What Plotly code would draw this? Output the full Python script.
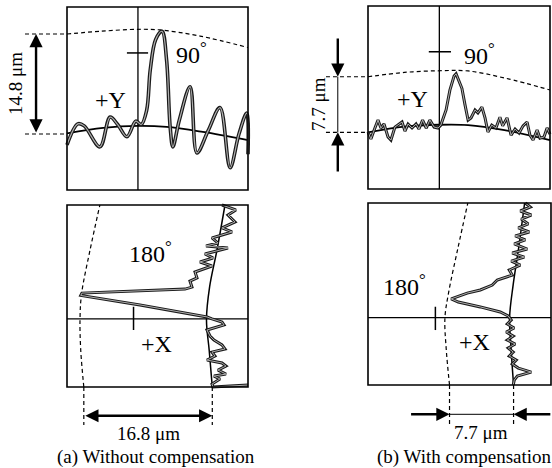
import plotly.graph_objects as go

W, H = 552, 468
FONT = "Liberation Serif"

# ---------------- data ----------------
# Panel (a) top: +Y side profile. x = position across frame (%), y = deviation (µm)
a_top_pos = [0, 6, 9.5, 18.2, 23.8, 28, 33.1, 38, 41, 44, 46, 49, 52.5, 55, 57, 58.5,
             62, 68, 71.8, 78, 84.5, 90.1, 95, 99.3, 100]
a_top_dev = [-1.6, 1.5, 1.2, -1.9, 2.5, 1.4, -0.4, 1.9, 1.4, 3.5, 9.5, 14, 15.2, 11, 1, -1.9,
             2, 7, -2.8, 0.5, 3.9, -5.0, 0, 3.1, -3.0]
a_top_ref_pos = [0, 20, 39.2, 55, 75, 100]
a_top_ref_dev = [0.1, 0.9, 1.2, 1.05, 0.3, -0.9]
a_top_out_pos = [0, 18.2, 39.2, 51.4, 73.5, 100]
a_top_out_dev = [14.8, 15.2, 15.5, 15.4, 14.5, 12.8]
a_top_span = 14.8

# Panel (b) top: +Y side profile with compensation
b_top_pos = [0, 1.6, 3.8, 5.5, 7.1, 8.8, 11, 12.6, 14.8, 16.5, 18.7, 20.3, 22, 24.2, 26.4, 28,
             30, 32, 34, 36.3, 38.5, 40, 42.9, 45, 47.3, 48.4, 50, 51.6, 53.3, 55, 56.6, 58.8,
             60.4, 62.6, 64.3, 65.9, 68, 70.3, 72.5, 74, 76.4, 78.6, 80.8, 83, 85.2, 87.4, 89,
             90.7, 92.9, 94.5, 96.7, 98.4, 100]
b_top_dev = [0.04, -0.93, 0.6, 1.7, 0.6, 1.15, -0.65, -1.07, 0.73, 1.0, 1.43, 0.18, 1.15, 0.6,
             1.15, 0.46, 1.7, 0.6, 1.7, 0.73, 0.6, 1.0, 3.1, 5.85, 7.8, 8.1, 7.2, 6.1, 3.8, 1.7,
             2.0, 3.1, 2.7, 3.5, 2.0, 0.04, 1.0, 0.6, 2.1, 0.9, 2.0, -0.4, 0.46, -0.1, 0.9, 1.43,
             -0.4, -1.07, 0.32, -0.8, -0.65, 0.6, -0.24]
b_top_ref_pos = [0, 20, 39.2, 55, 75, 100]
b_top_ref_dev = [0, 0.8, 1.05, 1.0, 0.3, -1.07]
b_top_out_pos = [0, 20, 39.2, 55, 75.8, 100]
b_top_out_dev = [7.7, 8.3, 8.53, 8.5, 7.48, 5.87]
b_top_span = 7.7

# Panel (a) bottom: +X side profile. x = deviation (µm), y = position across frame (%)
a_bot_dev = [1.27, 3.08, 2.05, 2.97, 1.27, 2.58, -0.04, 0.75, -0.82, 2.05, -0.96, 0.09, -1.61,
             -0.04, -2.26, -2.0, -2.92, -2.66, -3.57, -9.46, -17.05, -17.2, -9.46, -0.69, -0.04,
             1.27, 1.53, -0.69, -0.3, 0.22, 1.27, 1.66, -0.04, 0.35, -0.69, 1.27, 1.79, 0.75,
             1.79, 0.22, 1.0, -0.04, 0.09, 2.32, 4.67]
a_bot_pos = [100, 97.3, 94.5, 90.7, 87.4, 85.2, 81.9, 79.1, 77.5, 76.4, 73.1, 70.9, 68.7, 66.5,
             63.2, 59.9, 58.2, 54.9, 53.8, 53.0, 51.6, 50.3, 45.1, 38.5, 37.4, 35.7, 34.1, 31.3,
             28.0, 25.8, 23.1, 20.9, 19.2, 17.0, 14.8, 13.2, 11.5, 9.3, 7.1, 6.0, 4.4, 1.6, 0,
             0.5, 1.1]
a_bot_ref_pos = [0, 20, 37, 55, 75, 100]
a_bot_ref_dev = [0, -0.4, -0.76, -0.35, 0.6, 1.66]
a_bot_out_pos = [0, 20, 37, 51, 75, 100]
a_bot_out_dev = [-16.8, -17.2, -17.3, -17.1, -16.0, -14.7]
a_bot_span = 16.8

# Panel (b) bottom: +X side profile with compensation
b_bot_dev = [1.41, 2.01, 0.81, 2.13, 0.93, 1.77, 0.57, 1.89, 0.2, 1.41, 0.08, 1.65, -0.16, 1.29,
             -0.28, 0.81, -0.52, -0.16, -1.96, -2.56, -4.0, -5.57, -7.5, -6.65, -4.0, -1.6,
             -0.64, -0.28, -0.76, 0.08, -0.88, -0.04, -0.76, 0.2, -0.64, -0.04, -0.52, 0.32,
             -0.16, 0.57, 2.13, 0.45, 0.08, -0.04]
b_bot_pos = [100, 97.8, 95.6, 93.4, 91.2, 88.5, 86.3, 84.1, 81.9, 79.7, 77.5, 74.7, 72.5, 70.3,
             68.1, 65.9, 63.2, 60.4, 57.7, 54.9, 52.2, 50.5, 47.3, 45.6, 42.9, 40.1, 37.9, 35.7,
             33.5, 31.3, 29.1, 26.9, 24.7, 22.5, 20.3, 18.1, 15.9, 13.7, 11.5, 9.3, 7.1, 4.9,
             2.7, 0]
b_bot_ref_pos = [0, 20, 37, 55, 75, 100]
b_bot_ref_dev = [0, -0.3, -0.48, -0.05, 0.6, 1.33]
b_bot_out_pos = [0, 20, 37, 51, 75, 100]
b_bot_out_dev = [-7.7, -8.1, -8.25, -7.8, -6.7, -5.5]
b_bot_span = 7.7

span_labels = ["14.8 μm", "7.7 μm", "16.8 μm", "7.7 μm"]
captions = ["(a) Without compensation", "(b) With compensation"]

# ---------------- layout geometry ----------------
# frame pixel box (L, R, T, B) and frame extent in data units (x0, x1, y0, y1)
panels = {
    1: dict(px=(67, 248, 7, 190), dat=(0, 100, -8.29, 18.8)),
    2: dict(px=(368, 550, 6, 189), dat=(0, 100, -7.85, 17.5)),
    3: dict(px=(67, 248, 205, 387), dat=(-19.0, 4.67, 0, 100)),
    4: dict(px=(368, 551, 203, 385), dat=(-17.5, 4.5, 0, 100)),
}

fig = go.Figure()
layout = dict(width=W, height=H, margin=dict(l=0, r=0, t=0, b=0),
              paper_bgcolor="white", plot_bgcolor="rgba(0,0,0,0)", showlegend=False)
for k, p in panels.items():
    L, R, T, B = p["px"]
    x0, x1, y0, y1 = p["dat"]
    sx = (R - L) / (x1 - x0)
    sy = (B - T) / (y1 - y0)
    xa = x0 - L / sx
    xb = xa + W / sx
    yt = y1 + T / sy
    yb = yt - H / sy
    sfx = "" if k == 1 else str(k)
    ax = dict(visible=False, showgrid=False, zeroline=False, fixedrange=True, domain=[0, 1])
    layout["xaxis" + sfx] = dict(ax, range=[xa, xb], anchor="y" + sfx)
    layout["yaxis" + sfx] = dict(ax, range=[yb, yt], anchor="x" + sfx)
fig.update_layout(**layout)

shapes = []
annos = []


def ref(k):
    s = "" if k == 1 else str(k)
    return "x" + s, "y" + s


def line(k, xs, ys, width=1.2, dash=None, color="black", shape="linear"):
    xr, yr = ref(k)
    fig.add_trace(go.Scatter(x=xs, y=ys, mode="lines", xaxis=xr, yaxis=yr, hoverinfo="skip",
                             line=dict(color=color, width=width, dash=dash, shape=shape,
                                       smoothing=1.0 if shape == "spline" else None)))


def profile(k, xs, ys, shape="linear", w=3.2):
    line(k, xs, ys, width=w, shape=shape, color="#1a1a1a")
    line(k, xs, ys, width=w * 0.33, shape=shape, color="#b0b0b0")


def frame(k):
    xr, yr = ref(k)
    x0, x1, y0, y1 = panels[k]["dat"]
    shapes.append(dict(type="rect", xref=xr, yref=yr, x0=x0, x1=x1, y0=y0, y1=y1,
                       line=dict(color="black", width=1.6), layer="above"))


def text(k, x, y, s, size=24, angle=0, xanchor="center"):
    xr, yr = ref(k)
    annos.append(dict(x=x, y=y, xref=xr, yref=yr, text=s, showarrow=False, textangle=angle,
                      xanchor=xanchor, yanchor="middle",
                      font=dict(family=FONT, size=size, color="black")))


def arrow(k, x, y, axv, ayv, both=False, width=2.4):
    xr, yr = ref(k)
    annos.append(dict(x=x, y=y, ax=axv, ay=ayv, xref=xr, yref=yr, axref=xr, ayref=yr,
                      text="", showarrow=True, arrowhead=2, arrowsize=1.1, arrowwidth=width,
                      arrowcolor="black", standoff=0, startstandoff=0,
                      arrowside="end+start" if both else "end", startarrowhead=2,
                      startarrowsize=1.1))


DASH = "4px,3px"

# ----- panel 1: (a) +Y -----
frame(1)
line(1, [39.2, 39.2], [panels[1]["dat"][2], panels[1]["dat"][3]], width=1.3)
line(1, [33.1, 44.8], [12, 12], width=1.5)
line(1, a_top_out_pos, a_top_out_dev, dash=DASH, shape="spline")
line(1, a_top_ref_pos, a_top_ref_dev, width=1.8, shape="spline")
line(1, [-23.2, 0], [a_top_span, a_top_span], dash=DASH)
line(1, [-23.2, 0], [0, 0], dash=DASH)
profile(1, a_top_pos, a_top_dev, shape="spline", w=3.6)
arrow(1, -17.1, a_top_span, -17.1, 0, both=True)
text(1, 24.3, 5.0, "+Y")
text(1, 59.0, 12.0, "90<sup>°</sup>", xanchor="left")
text(1, -28.7, a_top_span / 2, span_labels[0], size=19, angle=-90)

# ----- panel 2: (b) +Y -----
frame(2)
line(2, [39.2, 39.2], [panels[2]["dat"][2], panels[2]["dat"][3]], width=1.3)
line(2, [33.4, 45.6], [11.16, 11.16], width=1.5)
line(2, b_top_out_pos, b_top_out_dev, dash=DASH, shape="spline")
line(2, b_top_ref_pos, b_top_ref_dev, width=1.8, shape="spline")
line(2, [-23.1, 0], [b_top_span, b_top_span], dash=DASH)
line(2, [-23.1, 0], [0, 0], dash=DASH)
profile(2, b_top_pos, b_top_dev, w=3.0)
line(2, [-16.6, -16.6], [0, b_top_span], width=1.0)
arrow(2, -16.6, b_top_span, -16.6, 13.2)
arrow(2, -16.6, 0, -16.6, -5.64)
text(2, 24.2, 4.6, "+Y")
text(2, 51.5, 10.9, "90<sup>°</sup>", xanchor="left")
text(2, -27.6, 3.9, span_labels[1], size=19, angle=-90)

# ----- panel 3: (a) +X -----
frame(3)
line(3, [panels[3]["dat"][0], panels[3]["dat"][1]], [37.4, 37.4], width=1.3)
line(3, [-10.3, -10.3], [31.3, 44.1], width=1.5)
line(3, a_bot_out_dev, a_bot_out_pos, dash=DASH, shape="spline")
line(3, a_bot_ref_dev, a_bot_ref_pos, width=1.5, shape="spline")
line(3, [-a_bot_span, -a_bot_span], [0, -20.9], dash=DASH)
line(3, [0, 0], [0, -20.9], dash=DASH)
profile(3, a_bot_dev, a_bot_pos, w=3.0)
arrow(3, 0, -15.8, -a_bot_span, -15.8, both=True)
text(3, -11.2, 74.3, "180<sup>°</sup>", xanchor="left")
text(3, -7.3, 23.5, "+X")
text(3, -8.4, -25.3, span_labels[2], size=19)
text(3, -7.3, -38.6, captions[0], size=19)

# ----- panel 4: (b) +X -----
frame(4)
line(4, [panels[4]["dat"][0], panels[4]["dat"][1]], [37, 37], width=1.3)
line(4, [-9.4, -9.4], [30.2, 43], width=1.5)
line(4, b_bot_out_dev, b_bot_out_pos, dash=DASH, shape="spline")
line(4, b_bot_ref_dev, b_bot_ref_pos, width=1.5, shape="spline")
line(4, [-b_bot_span, -b_bot_span], [0, -22], dash=DASH)
line(4, [0, 0], [0, -22], dash=DASH)
profile(4, b_bot_dev, b_bot_pos, w=3.0)
line(4, [-b_bot_span, 0], [-16.1, -16.1], width=1.0)
arrow(4, -b_bot_span, -16.1, -12.5, -16.1)
arrow(4, 0, -16.1, 4.6, -16.1)
text(4, -15.9, 55, "180<sup>°</sup>", xanchor="left")
text(4, -4.7, 23.8, "+X")
text(4, -3.9, -26.2, span_labels[3], size=19)
text(4, -5.9, -39.7, captions[1], size=19)

fig.update_layout(shapes=shapes, annotations=annos)
fig.write_html("out.html", config={"displayModeBar": False, "staticPlot": True},
               post_script="document.body.style.margin='0';document.body.style.overflow='hidden';")
